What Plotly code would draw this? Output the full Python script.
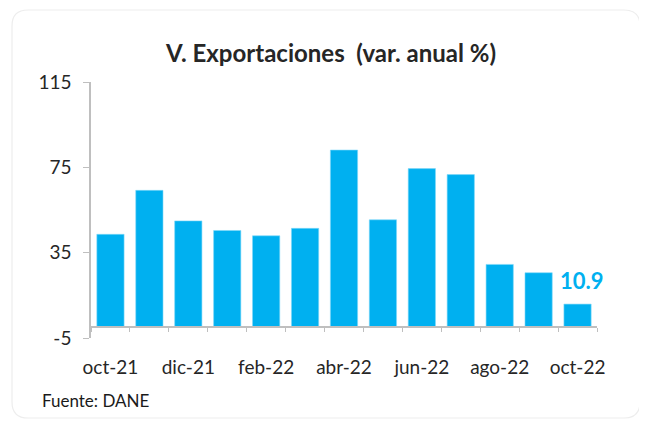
import plotly.graph_objects as go

months = ["oct-21", "nov-21", "dic-21", "ene-22", "feb-22", "mar-22", "abr-22",
          "may-22", "jun-22", "jul-22", "ago-22", "sep-22", "oct-22"]
values = [43.6, 64.2, 49.9, 45.4, 42.9, 46.4, 83.1, 50.4, 74.4, 71.6, 29.5, 25.6, 10.9]
y_ticks = [-5, 35, 75, 115]
x_label_idx = [0, 2, 4, 6, 8, 10, 12]

BLUE = "#00B0F0"
AXIS = "#BFBFBF"
FONT = "Lato, 'Open Sans', sans-serif"

xs = list(range(len(months)))

fig = go.Figure()
fig.add_trace(go.Bar(x=xs, y=values, marker=dict(color=BLUE, line=dict(color="#7FD8F8", width=0.6)),
                     width=0.7, showlegend=False, hoverinfo="skip"))

fig.add_annotation(x=xs[-1], y=values[-1], text="<b>%.1f</b>" % values[-1], showarrow=False,
                   yanchor="bottom", xanchor="center", yshift=8, xshift=4,
                   font=dict(family=FONT, size=22, color=BLUE))

OFF = 8  # page body margin
W, H = 647 - OFF, 423 - OFF
L, R, T, B = 83, 50, 74, 85
pw, ph = W - L - R, H - T - B

def px(x):
    return (x - OFF - L) / pw

def py(y):
    return (H + OFF - B - y) / ph

# card outline (rounded)
x0, x1, y0, y1 = px(12), px(640), py(418), py(10)
rx, ry = 16 / pw, 16 / ph
path = (f"M {x0+rx},{y1} L {x1-rx},{y1} Q {x1},{y1} {x1},{y1-ry} L {x1},{y0+ry} "
        f"Q {x1},{y0} {x1-rx},{y0} L {x0+rx},{y0} Q {x0},{y0} {x0},{y0+ry} "
        f"L {x0},{y1-ry} Q {x0},{y1} {x0+rx},{y1} Z")
fig.add_shape(type="path", path=path, xref="paper", yref="paper",
              line=dict(color="#EDEDED", width=1.2), layer="below")

fig.add_annotation(text="Fuente: DANE", xref="paper", yref="paper", x=px(40), y=py(400),
                   xanchor="left", yanchor="middle", showarrow=False,
                   font=dict(family=FONT, size=17, color="#1a1a1a"))

fig.add_annotation(text="<b>V. Exportaciones\u00a0\u00a0(var. anual %)</b>",
                   xref="paper", yref="paper", x=px(163), y=py(52),
                   xanchor="left", yanchor="middle", showarrow=False,
                   font=dict(family=FONT, size=24, color="#262626"))

fig.update_layout(
    width=W, height=H,
    margin=dict(l=L, r=R, t=T, b=B),
    paper_bgcolor="white", plot_bgcolor="white",
    font=dict(family=FONT, size=19, color="#262626"),
    bargap=0.3,
)

fig.update_yaxes(range=[-5, 115], tickvals=y_ticks, ticktext=[str(v) for v in y_ticks],
                 showline=True, linecolor=AXIS, linewidth=1.5, ticks="outside", ticklen=6,
                 tickcolor=AXIS, showgrid=False, zeroline=False, ticklabelstandoff=8,
                 tickfont=dict(family=FONT, size=19, color="#262626"))

fig.update_xaxes(range=[-0.5, len(months) - 0.5], tickvals=x_label_idx,
                 ticktext=[months[i] for i in x_label_idx],
                 anchor="free", position=5 / 120,
                 showline=True, linecolor=AXIS, linewidth=1.5, ticks="", showgrid=False,
                 zeroline=False, ticklabelstandoff=23,
                 minor=dict(ticks="outside", tick0=-0.5, dtick=1, ticklen=4, tickcolor=AXIS,
                            showgrid=False),
                 tickfont=dict(family=FONT, size=19, color="#262626"))

fig.write_html("out.html")
